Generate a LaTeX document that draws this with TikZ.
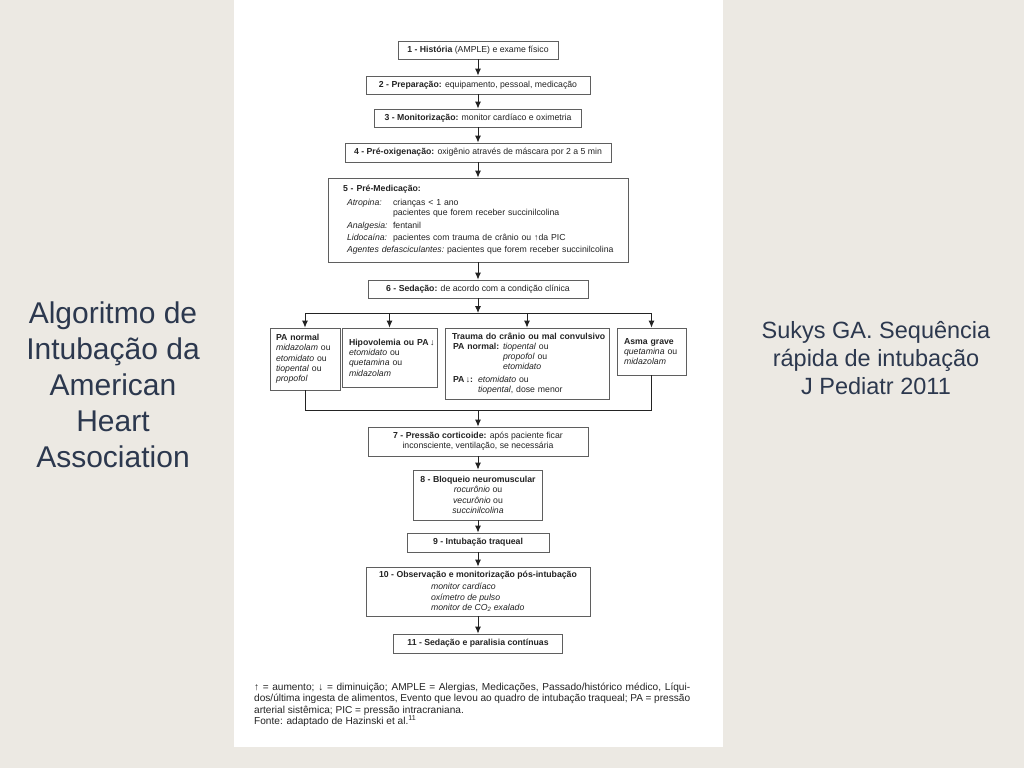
\documentclass[tikz,border=0pt]{standalone}
\usepackage{fontspec}
\setmainfont{Liberation Sans}
\usetikzlibrary{arrows.meta,positioning,calc}

\definecolor{slidebg}{RGB}{236,233,227}
\definecolor{titleblue}{RGB}{44,56,78}
\definecolor{boxgray}{RGB}{95,95,95}
\definecolor{txtgray}{RGB}{35,35,35}

\newcommand{\flowfont}{\fontsize{8.7}{10.3}\selectfont}
\newcommand{\notefont}{\fontsize{10.1}{11.3}\selectfont}

\tikzset{
  stepbox/.style={draw=boxgray, line width=0.8pt, fill=white, inner sep=0pt,
    font=\flowfont, text=txtgray, align=center},
  leftbox/.style={stepbox, align=left},
  flowline/.style={draw=txtgray, line width=0.9pt},
  flowarrow/.style={flowline, -{Latex[length=7pt,width=6pt]}},
}

\begin{document}
\begin{tikzpicture}[x=1pt,y=-1pt]
	% slide background and the white page of the article
	\fill[slidebg] (0,0) rectangle (1024,768);
	\fill[white] (234,0) rectangle (723,747);
	\useasboundingbox (0,0) rectangle (1024,768);

	% Titles beside the page
	\node[font=\fontsize{30}{36}\selectfont, text=titleblue, align=center] (title) at (113,385)
		{Algoritmo de\\ Intubação da\\ American\\ Heart\\ Association};
	\node[font=\fontsize{23.5}{28}\selectfont, text=titleblue, align=center] (source) at (876,358)
		{Sukys GA. Sequência\\ rápida de intubação\\ J Pediatr 2011};

	% Steps 1 - 6
	\node[stepbox, minimum width=160pt, minimum height=18pt] (s1) at (478,50)
		{\textbf{1 - História} (AMPLE) e exame físico};
	\node[stepbox, minimum width=224pt, minimum height=18pt] (s2) at (478,85)
		{\textbf{2 - Preparação:} equipamento, pessoal, medicação};
	\node[stepbox, minimum width=207pt, minimum height=18pt] (s3) at (478,118)
		{\textbf{3 - Monitorização:} monitor cardíaco e oximetria};
	\node[stepbox, minimum width=266pt, minimum height=19pt] (s4) at (478,152.5)
		{\textbf{4 - Pré-oxigenação:} oxigênio através de máscara por 2 a 5 min};
	\node[leftbox, text width=300pt, minimum height=84pt] (s5) at (478,220)
		{\hspace*{15pt}\textbf{5 - Pré-Medicação:}\\[3pt]
		 \hspace*{19pt}\makebox[46pt][l]{\textit{Atropina:}}crianças < 1 ano\\
		 \hspace*{65pt}pacientes que forem receber succinilcolina\\[2.5pt]
		 \hspace*{19pt}\makebox[46pt][l]{\textit{Analgesia:}}fentanil\\[2.5pt]
		 \hspace*{19pt}\makebox[46pt][l]{\textit{Lidocaína:}}pacientes com trauma de crânio ou ↑da PIC\\[1.5pt]
		 \hspace*{19pt}\textit{Agentes defasciculantes:}\ pacientes que forem receber succinilcolina};
	\node[stepbox, minimum width=220pt, minimum height=18pt] (s6) at (478,289)
		{\textbf{6 - Sedação:} de acordo com a condição clínica};

	% Sedation choices
	\node[leftbox, inner xsep=6pt, text width=58pt, minimum height=62pt] (pa) at (305,359)
		{\textbf{PA normal}\\ \textit{midazolam} ou\\ \textit{etomidato} ou\\ \textit{tiopental} ou\\ \textit{propofol}};
	\node[leftbox, inner xsep=7pt, text width=81pt, minimum height=59pt] (hipo) at (389.5,357.5)
		{\mbox{\textbf{Hipovolemia ou PA}\,↓}\\ \textit{etomidato} ou\\ \textit{quetamina} ou\\ \textit{midazolam}};
	\node[leftbox, text width=164pt, minimum height=71pt] (trauma) at (527,363.5)
		{\hspace*{7pt}\textbf{Trauma do crânio ou mal convulsivo}\\
		 \hspace*{8pt}\makebox[50pt][l]{\textbf{PA normal:}}\textit{tiopental} ou\\
		 \hspace*{58pt}\textit{propofol} ou\\
		 \hspace*{58pt}\textit{etomidato}\\[2pt]
		 \hspace*{8pt}\makebox[25pt][l]{\textbf{PA}\,↓\textbf{:}}\textit{etomidato} ou\\
		 \hspace*{33pt}\textit{tiopental}, dose menor};
	\node[leftbox, inner xsep=7pt, text width=55pt, minimum height=47pt] (asma) at (651.5,351.5)
		{\textbf{Asma grave}\\ \mbox{\textit{quetamina} ou}\\ \textit{midazolam}};

	% Steps 7 - 11
	\node[stepbox, minimum width=220pt, minimum height=29pt] (s7) at (478,441.5)
		{\textbf{7 - Pressão corticoide:} após paciente ficar\\ inconsciente, ventilação, se necessária};
	\node[stepbox, minimum width=129pt, minimum height=50pt] (s8) at (478,495)
		{\textbf{8 - Bloqueio neuromuscular}\\ \textit{rocurônio} ou\\ \textit{vecurônio} ou\\ \textit{succinilcolina}};
	\node[stepbox, minimum width=142pt, minimum height=19pt] (s9) at (478,542.5)
		{\textbf{9 - Intubação traqueal}};
	\node[stepbox, minimum width=224pt, minimum height=49pt] (s10) at (478,591.5)
		{\textbf{10 - Observação e monitorização pós-intubação}\\[2pt]
		 \makebox[94pt][l]{\textit{monitor cardíaco}}\\
		 \makebox[94pt][l]{\textit{oxímetro de pulso}}\\
		 \makebox[94pt][l]{\textit{monitor de CO\textsubscript{2} exalado}}};
	\node[stepbox, minimum width=169pt, minimum height=19pt] (s11) at (478,643.5)
		{\textbf{11 - Sedação e paralisia contínuas}};

	% Footnote
	\node[font=\notefont, text=txtgray, text width=436pt, align=justify, anchor=north west,
		inner sep=0pt] (note) at (254,683)
		{↑ = aumento; ↓ = diminuição; AMPLE = Alergias, Medicações, Passado/histórico médico, Líqui-\linebreak
		 dos/última ingesta de alimentos, Evento que levou ao quadro de intubação traqueal; PA = pressão\linebreak
		 arterial sistêmica; PIC = pressão intracraniana.\par
		 Fonte: adaptado de Hazinski et al.\textsuperscript{11}};

	% Connectors
	\coordinate (split) at (478,313);
	\coordinate (merge) at (478,410);
	\draw[flowarrow] (s1) -- (s2);
	\draw[flowarrow] (s2) -- (s3);
	\draw[flowarrow] (s3) -- (s4);
	\draw[flowarrow] (s4) -- (s5);
	\draw[flowarrow] (s5) -- (s6);
	\draw[flowarrow] (s6) -- (split);
	\draw[flowline] (pa.north |- split) -- (asma.north |- split);
	\foreach \br in {pa,hipo,trauma,asma}
		\draw[flowarrow] (\br.north |- split) -- (\br.north);
	\draw[flowline] (pa.south) -- (pa.south |- merge) -- (asma.south |- merge) -- (asma.south);
	\draw[flowarrow] (merge) -- (s7);
	\draw[flowarrow] (s7) -- (s8);
	\draw[flowarrow] (s8) -- (s9);
	\draw[flowarrow] (s9) -- (s10);
	\draw[flowarrow] (s10) -- (s11);
\end{tikzpicture}
\end{document}
